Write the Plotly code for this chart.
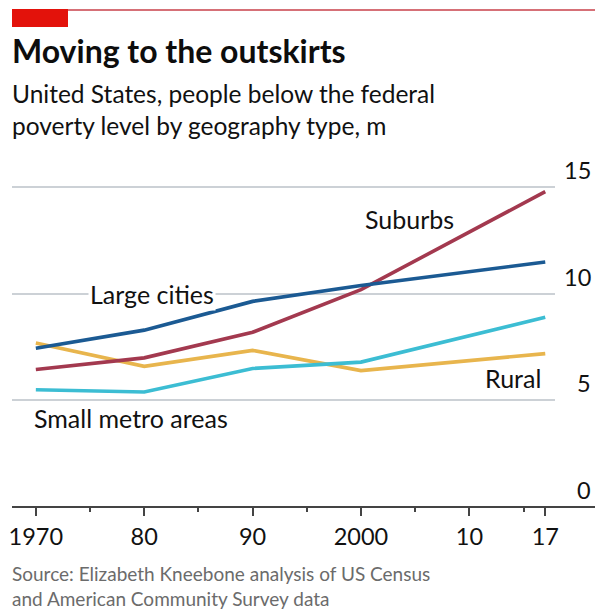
import plotly.graph_objects as go

# Poverty population by geography type, millions
years = [1970, 1980, 1990, 2000, 2017]
large_cities = [7.45, 8.3, 9.65, 10.4, 11.5]
suburbs = [6.45, 7.0, 8.2, 10.2, 14.8]
rural = [7.7, 6.6, 7.35, 6.4, 7.2]
small_metro = [5.5, 5.4, 6.5, 6.8, 8.9]

x_tickvals = [1970, 1980, 1990, 2000, 2010, 2017]
x_ticktext = ['1970', '80', '90', '2000', '10', '17']
x_minor = [1975, 1985, 1995, 2005, 2015]
y_tickvals = [0, 5, 10, 15]

FONT = 'Lato'
W, H = 595, 609
M = dict(l=12, r=40, t=181, b=102)

fig = go.Figure()

series = [
    ('Rural', rural, '#e8b54d'),
    ('Small metro areas', small_metro, '#3cbdd3'),
    ('Suburbs', suburbs, '#a3394f'),
    ('Large cities', large_cities, '#1b5a93'),
]
for name, vals, color in series:
    fig.add_trace(go.Scatter(x=years, y=vals, mode='lines', name=name,
                             line=dict(color=color, width=3.6),
                             hoverinfo='skip'))

# Series labels
labels = [
    ('Large cities', 1980.7, 10.0, True),
    ('Suburbs', 2004.5, 13.5, False),
    ('Rural', 2014.0, 6.05, False),
    ('Small metro areas', 1978.8, 4.2, False),
]
for text, x, y, bg in labels:
    fig.add_annotation(x=x, y=y, text=text, showarrow=False,
                       xanchor='center', yanchor='middle',
                       font=dict(family=FONT, size=25, color='#111111'),
                       bgcolor='white' if bg else None, borderpad=1)

fig.update_layout(
    width=W, height=H,
    margin=M,
    paper_bgcolor='white', plot_bgcolor='white',
    showlegend=False,
    xaxis=dict(range=[1967.8, 2017.9], tickvals=x_tickvals, ticktext=x_ticktext,
               ticks='outside', ticklen=8, tickwidth=2, tickcolor='#444444',
               minor=dict(tickvals=x_minor, ticks='outside', ticklen=4,
                          tickwidth=2, tickcolor='#444444'),
               showgrid=False, zeroline=False, showline=False, automargin=False,
               tickfont=dict(family=FONT, size=23.5, color='#111111'),
               ticklabelstandoff=1),
    yaxis=dict(range=[0, 15.3], tickvals=y_tickvals, side='right',
               showticklabels=False,
               showgrid=True, gridcolor='#ccd1d6', gridwidth=1.6,
               zeroline=False, showline=False, ticks='', automargin=False),
)

# Baseline axis (y=0 is the bottom of the plot) running to the right edge
fig.add_shape(type='line', xref='paper', yref='paper', x0=0, x1=1.1, y0=0, y1=0,
              line=dict(color='#444444', width=2))

# Pixel -> paper helpers for the header and footer
plot_w = W - M['l'] - M['r']
plot_h = H - M['t'] - M['b']


def px_x(px):
    return (px - M['l']) / plot_w


def px_y(px):
    return (H - M['b'] - px) / plot_h


# Right-aligned y tick labels sitting above their gridlines
for v in y_tickvals:
    fig.add_annotation(xref='paper', yref='y', x=px_x(593), y=v,
                       xanchor='right', yanchor='bottom', yshift=1,
                       showarrow=False, text=str(v),
                       font=dict(family=FONT, size=23.5, color='#111111'))

fig.add_shape(type='rect', xref='paper', yref='paper',
              x0=px_x(12), x1=px_x(68), y0=px_y(27), y1=px_y(9),
              line_width=0, fillcolor='#e3120b')
fig.add_shape(type='line', xref='paper', yref='paper',
              x0=px_x(68), x1=px_x(600), y0=px_y(10), y1=px_y(10),
              line=dict(color='#c8404a', width=1.5))

fig.add_annotation(xref='paper', yref='paper', x=px_x(10), y=px_y(50),
                   xanchor='left', yanchor='middle', showarrow=False,
                   text='<b>Moving to the outskirts</b>',
                   font=dict(family=FONT, size=32, color='#0d0d0d'))
fig.add_annotation(xref='paper', yref='paper', x=px_x(10), y=px_y(110),
                   xanchor='left', yanchor='middle', showarrow=False, align='left',
                   text='United States, people below the federal<br>poverty level by geography type, m',
                   font=dict(family=FONT, size=24.5, color='#111111'))
fig.add_annotation(xref='paper', yref='paper', x=px_x(10), y=px_y(586),
                   xanchor='left', yanchor='middle', showarrow=False, align='left',
                   text='Source: Elizabeth Kneebone analysis of US Census<br>and American Community Survey data',
                   font=dict(family=FONT, size=19, color='#6b6b6b'))

# drop the default page margin so the figure fills the window exactly
fig.write_html('out.html',
               config={'displayModeBar': False},
               post_script="document.body.style.margin='0';"
                           "document.body.style.overflow='hidden';")
